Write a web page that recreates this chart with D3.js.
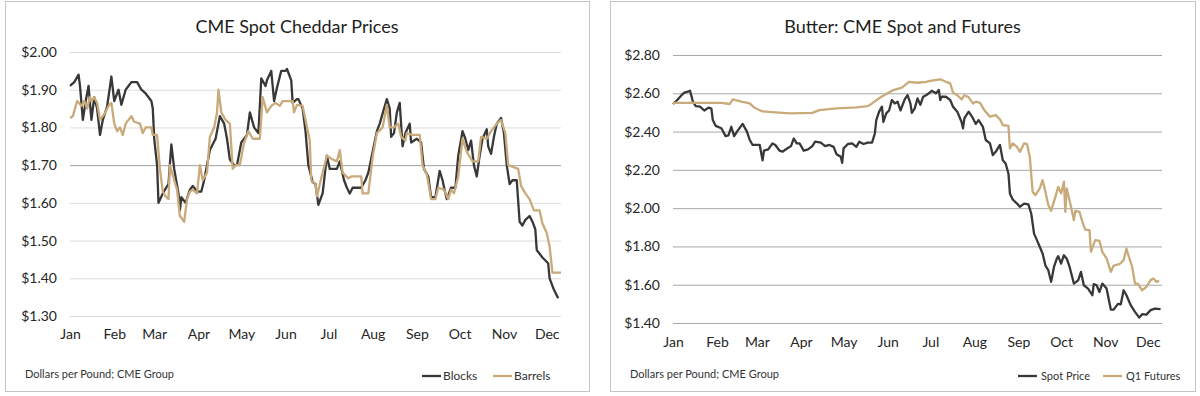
<!DOCTYPE html>
<html>
<head>
<meta charset="utf-8">
<script src="https://cdn.jsdelivr.net/npm/d3@7"></script>
<style>
  body { margin: 0; background: #fff; }
  svg { font-family: Lato, "Open Sans", sans-serif; display: block; }
</style>
</head>
<body>
<div id="chart"></div>
<script>
const year = "2025";
const endDate = "12-11";
const monthLabels = ["Jan", "Feb", "Mar", "Apr", "May", "Jun", "Jul", "Aug", "Sep", "Oct", "Nov", "Dec"];

const cheddarTicks = [1.30, 1.40, 1.50, 1.60, 1.70, 1.80, 1.90, 2.00];
const butterTicks = [1.40, 1.60, 1.80, 2.00, 2.20, 2.40, 2.60, 2.80];

// CME blocks, $/lb
const blockDates = ["01-01","01-04","01-07","01-08","01-10","01-12","01-14","01-16","01-18","01-20","01-22","01-24","01-27","01-30",
  "02-01","02-04","02-06","02-09","02-13","02-17","02-20","02-23","02-27","02-28",
  "03-01","03-03","03-04","03-07","03-11","03-13","03-15","03-18","03-19","03-20","03-23","03-26","03-28","03-31",
  "04-03","04-05","04-09","04-13","04-16","04-19","04-21","04-23","04-26","04-28",
  "05-01","05-05","05-07","05-10","05-13","05-15","05-18","05-19","05-22","05-24","05-26","05-29",
  "06-01","06-02","06-05","06-06","06-09","06-10","06-13","06-15","06-17","06-20","06-22","06-24","06-27","06-30",
  "07-02","07-07","07-09","07-12","07-14","07-16","07-18","07-24","07-27","07-29",
  "08-01","08-04","08-06","08-09","08-11","08-13","08-14","08-16","08-18","08-20","08-22","08-24","08-27","08-28",
  "09-01","09-04","09-06","09-09","09-11","09-14","09-17","09-19","09-21","09-22","09-25","09-28","09-30",
  "10-03","10-05","10-07","10-09","10-11","10-13","10-15","10-17","10-20","10-21","10-23","10-25","10-27","10-30",
  "11-01","11-03","11-05","11-07","11-10","11-12","11-14","11-16","11-19","11-21","11-23","11-24","11-28",
  "12-02","12-03","12-06","12-09"];
const blockValues = [1.91,1.92,1.94,1.91,1.82,1.87,1.91,1.82,1.88,1.85,1.78,1.82,1.855,1.935,
  1.87,1.90,1.86,1.90,1.92,1.92,1.90,1.89,1.87,1.85,
  1.77,1.70,1.60,1.625,1.65,1.755,1.69,1.625,1.58,1.615,1.60,1.635,1.645,1.63,
  1.63,1.66,1.74,1.77,1.83,1.81,1.77,1.715,1.70,1.70,
  1.76,1.78,1.84,1.80,1.785,1.93,1.91,1.925,1.95,1.87,1.905,1.95,
  1.95,1.955,1.925,1.865,1.875,1.875,1.85,1.79,1.70,1.655,1.65,1.595,1.625,1.725,
  1.69,1.69,1.71,1.66,1.64,1.625,1.64,1.64,1.66,1.68,
  1.735,1.79,1.81,1.85,1.875,1.85,1.775,1.785,1.84,1.865,1.75,1.785,1.81,1.76,
  1.77,1.76,1.69,1.67,1.615,1.615,1.685,1.66,1.625,1.61,1.64,1.64,1.725,
  1.79,1.77,1.74,1.765,1.70,1.67,1.725,1.77,1.795,1.75,1.73,1.775,1.81,1.825,
  1.785,1.70,1.65,1.66,1.66,1.55,1.54,1.555,1.565,1.55,1.53,1.475,1.455,
  1.44,1.40,1.37,1.347];

// CME barrels, $/lb
const barrelDates = ["01-01","01-03","01-06","01-07","01-09","01-11","01-13","01-15","01-16","01-18","01-20","01-22","01-25","01-28","01-30",
  "02-01","02-03","02-05","02-07","02-09","02-13","02-15","02-19","02-21","02-23","02-27","02-28",
  "03-03","03-05","03-07","03-09","03-11","03-12","03-15","03-17","03-19","03-22","03-24","03-26","03-28","03-31",
  "04-02","04-04","04-07","04-09","04-12","04-14","04-15","04-17","04-20","04-23","04-25","04-27","04-30",
  "05-03","05-06","05-09","05-14","05-16","05-19","05-22","05-25","05-28","05-30",
  "06-06","06-07","06-09","06-13","06-15","06-18","06-19","06-22","06-23","06-26","06-30",
  "07-04","07-07","07-09","07-11","07-15","07-17","07-24","07-25","07-29",
  "08-01","08-04","08-08","08-11","08-13","08-16","08-19","08-21","08-24","08-25","08-29",
  "09-03","09-05","09-08","09-11","09-14","09-16","09-20","09-23","09-25","09-27","09-30",
  "10-03","10-06","10-10","10-14","10-16","10-20","10-23","10-27","10-30",
  "11-02","11-04","11-11","11-13","11-16","11-19","11-22","11-26","11-28",
  "12-01","12-03","12-05","12-11"];
const barrelValues = [1.825,1.83,1.87,1.866,1.857,1.87,1.85,1.88,1.87,1.88,1.865,1.82,1.835,1.857,1.865,
  1.81,1.79,1.80,1.78,1.81,1.83,1.815,1.81,1.785,1.80,1.80,1.78,
  1.78,1.69,1.63,1.617,1.61,1.70,1.66,1.635,1.565,1.55,1.61,1.63,1.635,1.625,
  1.70,1.66,1.68,1.775,1.80,1.84,1.90,1.84,1.82,1.81,1.69,1.70,1.70,
  1.76,1.79,1.77,1.77,1.88,1.84,1.857,1.865,1.857,1.87,
  1.87,1.84,1.86,1.857,1.82,1.765,1.66,1.65,1.617,1.665,1.725,
  1.715,1.71,1.74,1.68,1.665,1.67,1.67,1.625,1.625,
  1.72,1.785,1.80,1.86,1.80,1.80,1.81,1.775,1.765,1.785,1.78,
  1.78,1.70,1.675,1.61,1.61,1.64,1.635,1.61,1.635,1.625,1.67,
  1.77,1.735,1.71,1.71,1.775,1.77,1.79,1.81,1.82,
  1.785,1.70,1.69,1.645,1.625,1.61,1.58,1.58,1.545,
  1.52,1.485,1.415,1.415];

// butter spot, $/lb
const spotDates = ["01-01","01-04","01-07","01-09","01-12","01-13","01-15","01-17","01-20","01-23","01-26","01-28","01-29","01-31",
  "02-04","02-07","02-09","02-11","02-13","02-15","02-19","02-22","02-24","02-26","02-28",
  "03-03","03-05","03-06","03-09","03-12","03-14","03-17","03-19","03-22","03-25","03-27","03-29","03-31",
  "04-03","04-06","04-09","04-11","04-15","04-18","04-21","04-24","04-26","04-29","04-30",
  "05-01","05-04","05-07","05-10","05-12","05-15","05-18","05-21","05-23","05-24","05-26","05-28","05-29","05-31",
  "06-02","06-04","06-06","06-08","06-10","06-13","06-15","06-17","06-18","06-20","06-22","06-24","06-26","06-28","06-30",
  "07-02","07-05","07-07","07-08","07-09","07-12","07-15","07-17","07-20","07-23","07-24","07-25","07-28","07-31",
  "08-02","08-04","08-07","08-09","08-12","08-14","08-16","08-19","08-21","08-23","08-25","08-26","08-28","08-31",
  "09-02","09-05","09-08","09-10","09-12","09-14","09-16","09-18","09-20","09-22","09-24","09-26","09-28","09-29",
  "10-01","10-03","10-05","10-07","10-10","10-13","10-15","10-17","10-20","10-23","10-24","10-26","10-28","10-30",
  "11-02","11-05","11-07","11-10","11-12","11-14","11-16","11-19","11-22","11-25","11-27","11-30",
  "12-03","12-06","12-10"];
const spotValues = [2.544,2.565,2.59,2.603,2.61,2.613,2.556,2.533,2.53,2.51,2.525,2.52,2.46,2.43,
  2.417,2.376,2.38,2.425,2.376,2.40,2.44,2.40,2.356,2.33,2.33,
  2.33,2.25,2.30,2.307,2.338,2.33,2.30,2.295,2.31,2.324,2.364,2.338,2.338,
  2.30,2.307,2.324,2.347,2.342,2.324,2.33,2.32,2.282,2.268,2.237,
  2.312,2.335,2.338,2.32,2.347,2.335,2.342,2.342,2.39,2.46,2.504,2.53,2.45,2.495,
  2.51,2.565,2.547,2.556,2.51,2.568,2.59,2.547,2.498,2.52,2.573,2.54,2.582,2.59,2.60,
  2.613,2.60,2.617,2.565,2.582,2.582,2.565,2.53,2.504,2.45,2.417,2.47,2.504,2.47,
  2.44,2.46,2.425,2.356,2.338,2.277,2.294,2.33,2.25,2.233,2.18,2.077,2.045,2.024,
  2.007,2.024,2.02,1.972,1.867,1.833,1.798,1.763,1.70,1.676,1.615,1.693,1.736,1.749,
  1.71,1.754,1.736,1.693,1.606,1.623,1.667,1.597,1.58,1.545,1.603,1.597,1.562,1.606,
  1.58,1.47,1.47,1.50,1.498,1.571,1.545,1.493,1.458,1.428,1.446,1.444,
  1.467,1.475,1.472];

// butter Q1 futures, $/lb
const futuresDates = ["01-01","01-16","02-04","02-10","02-12","02-18","02-24","02-27",
  "03-05","03-19","03-25","04-09","04-14","04-26","05-10","05-18","05-21","05-27","05-31",
  "06-05","06-11","06-16","06-22","06-28","07-02","07-08","07-12","07-15","07-17","07-20","07-23","07-25","07-28","07-31",
  "08-02","08-05","08-08","08-12","08-16","08-19","08-21","08-25","08-26","08-28","08-31",
  "09-02","09-05","09-07","09-09","09-11","09-13","09-16","09-18","09-20","09-22","09-24","09-27","09-29",
  "10-01","10-03","10-04","10-05","10-08","10-10","10-11","10-14","10-16","10-18","10-21","10-22","10-25","10-28","10-30",
  "11-02","11-05","11-07","11-11","11-14","11-16","11-17","11-20","11-22","11-24","11-27","11-30",
  "12-03","12-05","12-07","12-09"];
const futuresValues = [2.55,2.55,2.55,2.544,2.568,2.556,2.547,2.526,
  2.505,2.498,2.495,2.498,2.512,2.521,2.526,2.533,2.547,2.579,2.596,
  2.617,2.63,2.66,2.655,2.66,2.666,2.673,2.66,2.652,2.603,2.59,2.568,2.59,2.579,2.547,
  2.556,2.55,2.512,2.478,2.486,2.464,2.434,2.43,2.312,2.338,2.32,
  2.294,2.338,2.335,2.268,2.085,2.068,2.103,2.146,2.085,2.016,1.986,2.059,2.111,
  2.077,2.138,1.98,2.103,2.007,1.937,1.986,1.98,1.928,1.888,1.885,1.772,1.833,1.829,1.772,
  1.737,1.667,1.70,1.707,1.728,1.789,1.763,1.693,1.606,1.606,1.571,1.589,
  1.624,1.632,1.615,1.62];

const darkColor = "#383838";
const tanColor = "#c9aa7a";

const parseDate = d3.timeParse("%Y-%m-%d");
const toDate = (md) => parseDate(`${year}-${md}`);

const panels = [
  {
    box: {x: 5, y: 1, w: 584, h: 390},
    plot: {left: 70, right: 561, top: 52, bottom: 316},
    title: "CME Spot Cheddar Prices",
    ticks: cheddarTicks,
    darkTick: 1.70,
    gridColor: "#dcdcdc",
    monthY: 339,
    legendFont: 12,
    legend: [{name: "Blocks", x: 422}, {name: "Barrels", x: 493}],
    series: [
      {dates: blockDates, values: blockValues, color: darkColor},
      {dates: barrelDates, values: barrelValues, color: tanColor}
    ]
  },
  {
    box: {x: 610, y: 1, w: 585, h: 390},
    plot: {left: 673, right: 1162, top: 55, bottom: 323},
    title: "Butter: CME Spot and Futures",
    ticks: butterTicks,
    darkTick: null,
    gridColor: "#a8a8a8",
    monthY: 347,
    legendFont: 11,
    legend: [{name: "Spot Price", x: 1018}, {name: "Q1 Futures", x: 1103}],
    series: [
      {dates: spotDates, values: spotValues, color: darkColor},
      {dates: futuresDates, values: futuresValues, color: tanColor}
    ]
  }
];

const svg = d3.select("#chart")
  .append("svg")
  .attr("width", 1200)
  .attr("height", 396);

panels.forEach((p) => {
  const g = svg.append("g");

  g.append("rect")
    .attr("x", p.box.x + 0.5)
    .attr("y", p.box.y + 0.5)
    .attr("width", p.box.w)
    .attr("height", p.box.h)
    .attr("fill", "#fff")
    .attr("stroke", "#c4c4c4");

  g.append("text")
    .text(p.title)
    .attr("x", p.box.x + p.box.w / 2)
    .attr("y", 33)
    .attr("text-anchor", "middle")
    .attr("font-size", 18)
    .attr("fill", "#1e1e1e");

  const x = d3.scaleTime()
    .domain([toDate("01-01"), toDate(endDate)])
    .range([p.plot.left, p.plot.right]);

  const y = d3.scaleLinear()
    .domain(d3.extent(p.ticks))
    .range([p.plot.bottom, p.plot.top]);

  // gridlines
  const grid = g.append("g")
    .attr("transform", `translate(${p.plot.left},0)`)
    .call(d3.axisLeft(y).tickValues(p.ticks).tickSize(-(p.plot.right - p.plot.left)).tickFormat(""));
  grid.select(".domain").remove();
  grid.selectAll("line")
    .attr("stroke", (d) => d === p.darkTick ? "#a0a0a0" : p.gridColor)
    .attr("stroke-width", 1);

  // y labels
  const yAxis = g.append("g")
    .attr("transform", `translate(${p.plot.left},0)`)
    .call(d3.axisLeft(y).tickValues(p.ticks).tickSize(0).tickPadding(13).tickFormat((d) => `$${d.toFixed(2)}`));
  yAxis.select(".domain").remove();
  yAxis.selectAll("text")
    .attr("font-family", "Lato, sans-serif")
    .attr("font-size", 14)
    .attr("fill", "#262626");

  // month labels
  const xAxis = g.append("g")
    .attr("transform", `translate(0,${p.monthY - 10})`)
    .call(d3.axisBottom(x).ticks(d3.timeMonth.every(1)).tickSize(0).tickPadding(0)
      .tickFormat((d) => monthLabels[d.getMonth()]));
  xAxis.select(".domain").remove();
  xAxis.selectAll("text")
    .attr("font-family", "Lato, sans-serif")
    .attr("font-size", 14)
    .attr("fill", "#262626");

  const line = d3.line()
    .x((d) => x(d.date))
    .y((d) => y(d.value));

  p.series.forEach((s) => {
    const rows = s.dates.map((d, i) => ({date: toDate(d), value: s.values[i]}));
    g.append("path")
      .datum(rows)
      .attr("d", line)
      .attr("fill", "none")
      .attr("stroke", s.color)
      .attr("stroke-width", 2.3)
      .attr("stroke-linejoin", "round");
  });

  g.append("text")
    .text("Dollars per Pound; CME Group")
    .attr("x", p.box.x + 20)
    .attr("y", 378)
    .attr("font-size", 11)
    .attr("fill", "#333");

  const legend = g.selectAll(".legend")
    .data(p.legend)
    .enter()
    .append("g")
    .attr("class", "legend")
    .attr("transform", (d) => `translate(${d.x},376)`);

  legend.append("line")
    .attr("x1", 0)
    .attr("x2", 19)
    .attr("stroke", (d, i) => p.series[i].color)
    .attr("stroke-width", 2.3);

  legend.append("text")
    .text((d) => d.name)
    .attr("x", p.legendFont === 12 ? 21 : 23)
    .attr("y", 4)
    .attr("font-size", p.legendFont)
    .attr("fill", "#333");
});
</script>
</body>
</html>
